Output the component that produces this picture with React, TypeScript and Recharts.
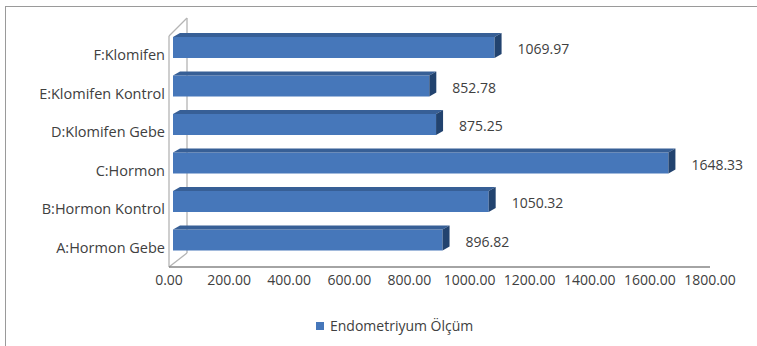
import React from 'react';
import {BarChart, Bar, XAxis, YAxis, LabelList} from 'recharts';

// groups as Excel lists them (A at the bottom)
const groups = ['A:Hormon Gebe', 'B:Hormon Kontrol', 'C:Hormon', 'D:Klomifen Gebe', 'E:Klomifen Kontrol', 'F:Klomifen'];
const olcum = [896.82, 1050.32, 1648.33, 875.25, 852.78, 1069.97];
const xTicks = [0, 200, 400, 600, 800, 1000, 1200, 1400, 1600, 1800];
const seriesName = 'Endometriyum Ölçüm';

const data = groups.map((name, i) => ({name, value: olcum[i]}));

const FONT = '"Open Sans", sans-serif';
const TEXT = '#404040';
const BAR = '#4677BA';
const SHIFT_X = 4;
const SHIFT_Y = 8;
const DEPTH_X = 7;
const DEPTH_Y = 4;

function Bar3D(props: any) {
    const {x, y, width, height} = props;
    if (width == null || width <= 0) return null;
    const fx = x + SHIFT_X;
    const fy = y - SHIFT_Y;
    const ex = fx + width;
    return (
        <g>
            <rect x={fx} y={fy} width={width} height={height} fill={BAR}/>
            <polygon
                points={`${fx},${fy} ${fx + DEPTH_X},${fy - DEPTH_Y} ${ex + DEPTH_X},${fy - DEPTH_Y} ${ex},${fy}`}
                fill="#375F96"/>
            <polygon
                points={`${ex},${fy} ${ex + DEPTH_X},${fy - DEPTH_Y} ${ex + DEPTH_X},${fy + height - DEPTH_Y} ${ex},${fy + height}`}
                fill="#22436F"/>
        </g>
    );
}

function ValueLabel(props: any) {
    const {x, y, width, height, value} = props;
    return (
        <text x={x + SHIFT_X + width + DEPTH_X + 16} y={y + height / 2 - SHIFT_Y + 1}
              dominantBaseline="central" fontSize={14} fontFamily={FONT} fill={TEXT}>
            {Number(value).toFixed(2)}
        </text>
    );
}

export default function App() {
    return (
        <div style={{position: 'absolute', left: 0, top: 0, width: 757, height: 346, overflow: 'hidden', background: '#fff'}}>
            <div style={{position: 'absolute', left: 5, top: 6, width: 800, height: 400, border: '1.5px solid #9a9a9a'}}/>
            {/* 3d walls */}
            <svg width={757} height={346} style={{position: 'absolute', left: 0, top: 0}}>
                <g stroke="#b4b4b4" strokeWidth={1.3} fill="none">
                    <line x1={169} y1={36} x2={169} y2={267}/>
                    <line x1={187} y1={18} x2={187} y2={253}/>
                    <line x1={169} y1={36} x2={187} y2={18}/>
                    <line x1={169} y1={267} x2={187} y2={253}/>
                </g>
            </svg>
            <div style={{position: 'absolute', left: 0, top: 0}}>
                <BarChart width={757} height={346} data={data} layout="vertical"
                          margin={{top: 36, right: 47, bottom: 49, left: 9}}>
                    <XAxis type="number" domain={[0, 1800]} ticks={xTicks} interval={0} height={30}
                           tickFormatter={(v) => v.toFixed(2)} tickLine={false}
                           axisLine={{stroke: '#868686', strokeWidth: 1.3}}
                           tick={{fontSize: 14, fontFamily: FONT, fill: TEXT}} tickMargin={2}/>
                    <YAxis type="category" dataKey="name" reversed width={160} axisLine={false}
                           tickLine={false} tickSize={4} tickMargin={0} interval={0}
                           tick={{fontSize: 14.5, fontFamily: FONT, fill: TEXT}}/>
                    <Bar dataKey="value" name={seriesName} barSize={21} shape={<Bar3D/>}
                         isAnimationActive={false}>
                        <LabelList dataKey="value" content={<ValueLabel/>}/>
                    </Bar>
                </BarChart>
            </div>
            <div style={{position: 'absolute', left: 316, top: 316, display: 'flex', alignItems: 'center',
                fontFamily: FONT, fontSize: 14, color: TEXT}}>
                <span style={{display: 'inline-block', width: 8, height: 8, background: BAR, marginRight: 6}}/>
                {seriesName}
            </div>
        </div>
    );
}
